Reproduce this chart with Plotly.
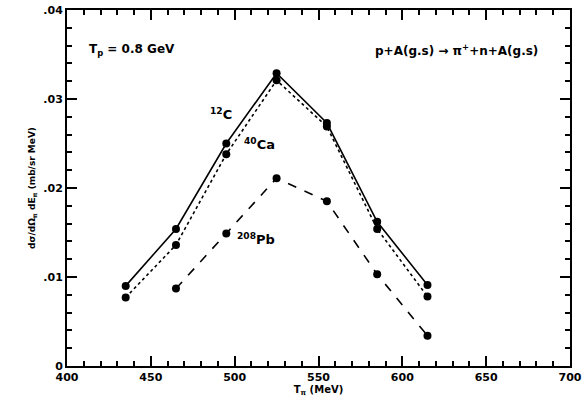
import plotly.graph_objects as go

t_pi = [435, 465, 495, 525, 555, 585, 615]
c12 = [0.0090, 0.0154, 0.0250, 0.0329, 0.0273, 0.0162, 0.0091]
ca40 = [0.0077, 0.0136, 0.0238, 0.0321, 0.0269, 0.0154, 0.0078]
t_pb = [465, 495, 525, 555, 585, 615]
pb208 = [0.0087, 0.0149, 0.0211, 0.0185, 0.0103, 0.0034]

y_tickvals = [0, 0.01, 0.02, 0.03, 0.04]
y_ticktext = ["0", ".01", ".02", ".03", ".04"]
x_tickvals = [400, 450, 500, 550, 600, 650, 700]

FONT = "DejaVu Sans"

fig = go.Figure()
marker = dict(size=8, color="black")
fig.add_trace(go.Scatter(x=t_pi, y=c12, mode="lines+markers",
                         line=dict(color="black", width=1.6, dash="solid"), marker=marker))
fig.add_trace(go.Scatter(x=t_pi, y=ca40, mode="lines+markers",
                         line=dict(color="black", width=1.6, dash="dot"), marker=marker))
fig.add_trace(go.Scatter(x=t_pb, y=pb208, mode="lines+markers",
                         line=dict(color="black", width=1.6, dash="dash"), marker=marker))

axis_common = dict(showgrid=False, zeroline=False, showline=True, linecolor="black",
                   linewidth=2, mirror="allticks", ticks="inside", tickcolor="black",
                   tickwidth=2, ticklen=10, automargin=False,
                   tickfont=dict(family=FONT, size=11, color="black", weight="bold"))

fig.update_xaxes(range=[400, 700], tickvals=x_tickvals,
                 minor=dict(dtick=10, ticks="inside", ticklen=5, tickcolor="black", tickwidth=1.5),
                 title=dict(text="<b>T<sub>π</sub> (MeV)</b>", standoff=0,
                            font=dict(family=FONT, size=10, color="black")),
                 **axis_common)
fig.update_yaxes(range=[0, 0.04], tickvals=y_tickvals, ticktext=y_ticktext,
                 minor=dict(dtick=0.002, ticks="inside", ticklen=5, tickcolor="black", tickwidth=1.5),
                 title=dict(text="<b>dσ/dΩ<sub>π</sub> dE<sub>π</sub> (mb/sr MeV)</b>", standoff=6,
                            font=dict(family=FONT, size=9, color="black")),
                 **axis_common)

ann_font = dict(family=FONT, size=12, color="black")
fig.add_annotation(x=412, y=0.0355, text="<b>T<sub>p</sub> = 0.8 GeV</b>", showarrow=False,
                   xanchor="left", font=ann_font)
fig.add_annotation(x=682, y=0.0355, text="<b>p+A(g.s) → π<sup>+</sup>+n+A(g.s)</b>", showarrow=False,
                   xanchor="right", font=ann_font)
fig.add_annotation(x=492, y=0.0283, text="<b><sup>12</sup>C</b>", showarrow=False,
                   xanchor="center", font=dict(family=FONT, size=13, color="black"))
fig.add_annotation(x=515, y=0.0250, text="<b><sup>40</sup>Ca</b>", showarrow=False,
                   xanchor="center", font=dict(family=FONT, size=13, color="black"))
fig.add_annotation(x=513, y=0.0143, text="<b><sup>208</sup>Pb</b>", showarrow=False,
                   xanchor="center", font=dict(family=FONT, size=13, color="black"))

fig.update_layout(width=583, height=399, showlegend=False,
                  margin=dict(l=67, r=13, t=10, b=33),
                  plot_bgcolor="white", paper_bgcolor="white")

fig.write_html("out.html", config={"displayModeBar": False},
               post_script="document.body.style.margin='0';document.body.style.padding='0';"
                           "document.documentElement.style.overflow='hidden';")
